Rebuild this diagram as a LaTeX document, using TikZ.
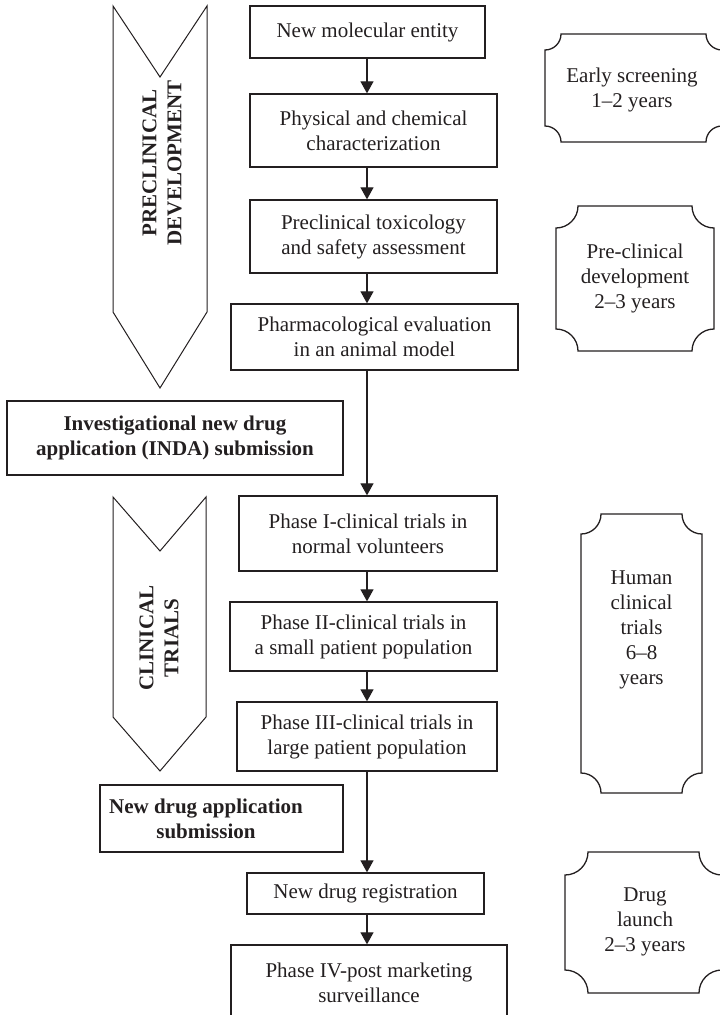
\documentclass[tikz,border=0pt]{standalone}
\usepackage{fontspec}
\setmainfont{Liberation Serif}
\usetikzlibrary{arrows.meta}
\definecolor{ink}{RGB}{35,31,32}
% concave-cornered period box: x0, y0, x1, y1, corner radius
\newcommand\periodshape[5]{%
  \draw[period] (#1+#5,#2) -- (#3-#5,#2)
    arc[start angle=180,end angle=90,radius=#5] -- (#3,#4-#5)
    arc[start angle=270,end angle=180,radius=#5] -- (#1+#5,#4)
    arc[start angle=0,end angle=-90,radius=#5] -- (#1,#2+#5)
    arc[start angle=90,end angle=0,radius=#5] -- cycle;}
\begin{document}
\begin{tikzpicture}[x=1pt,y=-1pt,
  every node/.style={text=ink, font=\fontsize{21}{25}\selectfont},
  stage/.style={draw=ink, line width=1.3pt, rectangle, inner sep=0pt, align=center},
  submit/.style={stage, font=\fontsize{21}{25}\selectfont\bfseries},
  flow/.style={draw=ink, line width=1.2pt, -{Triangle[width=13pt,length=12pt]}},
  band/.style={draw=ink, line width=1pt, line join=miter},
  period/.style={draw=ink, line width=1.3pt},
  bandlabel/.style={rotate=90, align=center, font=\fontsize{21}{25}\selectfont\bfseries},
  note/.style={align=center}]
\useasboundingbox (0,0) rectangle (720,1015);
\clip (0,0) rectangle (720,1015);

% main flow axis
\coordinate (axis) at (367,0);

% left-hand phase bands
\draw[band] (113,6) -- (160,77) -- (207,6) -- (207,312) -- (160,388) -- (113,312) -- cycle;
\node[bandlabel] (preclin) at (162,163) {PRECLINICAL\\DEVELOPMENT};
\draw[band] (113,497) -- (160,551) -- (206,497) -- (206,717) -- (160,771) -- (113,717) -- cycle;
\node[bandlabel] (clin) at (159,638) {CLINICAL\\TRIALS};

% stages
\node[stage, minimum width=235pt, minimum height=52pt] (nme)   at (367.5,32)   {New molecular entity};
\node[stage, minimum width=247pt, minimum height=73pt] (phys)  at (373.5,130.5) {Physical and chemical\\characterization};
\node[stage, minimum width=247pt, minimum height=73pt] (tox)   at (373.5,236.5) {Preclinical toxicology\\and safety assessment};
\node[stage, minimum width=287pt, minimum height=66pt] (pharm) at (374.5,337)   {Pharmacological evaluation\\in an animal model};
\node[submit, minimum width=336pt, minimum height=74pt] (inda) at (175,438)     {Investigational new drug\\application (INDA) submission};
\node[stage, minimum width=258pt, minimum height=75pt] (ph1)   at (368,533.5)   {Phase I-clinical trials in\\normal volunteers};
\node[stage, minimum width=267pt, minimum height=69pt] (ph2)   at (363.5,636.5) {Phase II-clinical trials in\\a small patient population};
\node[stage, minimum width=260pt, minimum height=69pt] (ph3)   at (367,736.5)   {Phase III-clinical trials in\\large patient population};
\node[submit, minimum width=243pt, minimum height=67pt] (nda)  at (221.5,818.5) {};
\node[font=\fontsize{21}{25}\selectfont\bfseries, align=center] (ndatext) at (206,818.5) {New drug application\\submission};
\node[stage, minimum width=237pt, minimum height=41pt] (reg)   at (365.5,893.5) {New drug registration};
\node[stage, minimum width=276pt, minimum height=75pt] (ph4)   at (369,982.5)   {Phase IV-post marketing\\surveillance};

% connectors
\draw[flow] (nme.south -| axis)   -- (phys.north -| axis);
\draw[flow] (phys.south -| axis)  -- (tox.north -| axis);
\draw[flow] (tox.south -| axis)   -- (pharm.north -| axis);
\draw[flow] (pharm.south -| axis) -- (ph1.north -| axis);
\draw[flow] (ph1.south -| axis)   -- (ph2.north -| axis);
\draw[flow] (ph2.south -| axis)   -- (ph3.north -| axis);
\draw[flow] (ph3.south -| axis)   -- (reg.north -| axis);
\draw[flow] (reg.south -| axis)   -- (ph4.north -| axis);

% durations
\periodshape{545}{34}{722}{142}{16}
\node[note] (early) at (632,90) {Early screening\\1--2 years};
\periodshape{556}{206}{714}{351}{22}
\node[note] (predev) at (635,278.5) {Pre-clinical\\development\\2--3 years};
\periodshape{581}{514}{702}{793}{20}
\node[note] (human) at (641.5,630) {Human\\clinical\\trials\\6--8\\years};
\periodshape{565}{852}{722}{993}{23}
\node[note] (launch) at (645,922) {Drug\\launch\\2--3 years};
\end{tikzpicture}
\end{document}
